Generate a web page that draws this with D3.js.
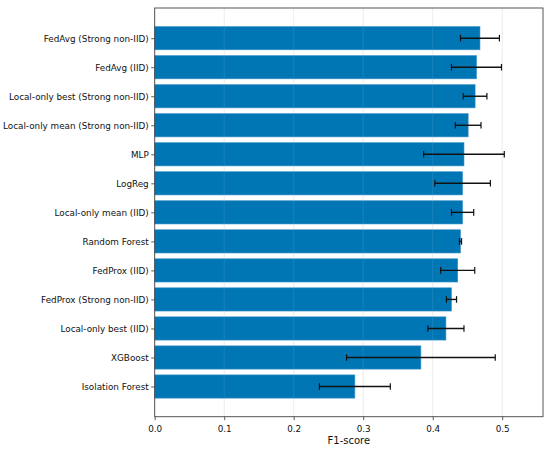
<!DOCTYPE html>
<html>
<head>
<meta charset="utf-8">
<script src="https://cdn.jsdelivr.net/npm/d3@7"></script>
<style>
  body { margin: 0; background: #fff; }
  svg text { font-family: "DejaVu Sans", sans-serif; }
</style>
</head>
<body>
<svg id="chart" width="550" height="451"></svg>
<script>
// data
var models = ["FedAvg (Strong non-IID)", "FedAvg (IID)", "Local-only best (Strong non-IID)",
              "Local-only mean (Strong non-IID)", "MLP", "LogReg", "Local-only mean (IID)",
              "Random Forest", "FedProx (IID)", "FedProx (Strong non-IID)",
              "Local-only best (IID)", "XGBoost", "Isolation Forest"];
var f1Mean = [0.468, 0.463, 0.461, 0.451, 0.445, 0.443, 0.443, 0.440, 0.436, 0.427, 0.419, 0.383, 0.288];
var f1Std  = [0.028, 0.036, 0.017, 0.0185, 0.058, 0.040, 0.016, 0.0015, 0.0245, 0.0073, 0.026, 0.107, 0.051];
var xTicks = [0.0, 0.1, 0.2, 0.3, 0.4, 0.5];

var svg = d3.select("#chart");
var plotL = 154.7, plotR = 543, plotT = 8, plotB = 416.7;

var x = d3.scaleLinear().domain([0, 0.5587]).range([plotL, plotR]);
// matplotlib style: positions 0..12, margins 5%
var y = d3.scaleLinear().domain([-1.04, 13.04]).range([plotT, plotB]);
var barH = (y(0.4) - y(-0.4));

// grid
svg.append("g").selectAll("line")
  .data(xTicks)
  .enter().append("line")
  .attr("x1", d => x(d)).attr("x2", d => x(d))
  .attr("y1", plotT).attr("y2", plotB)
  .attr("stroke", "#e6e6e6").attr("stroke-width", 0.8);

// bars
svg.append("g").selectAll("rect")
  .data(models)
  .enter().append("rect")
  .attr("x", x(0))
  .attr("y", (d, i) => y(i) - barH / 2)
  .attr("width", (d, i) => x(f1Mean[i]) - x(0))
  .attr("height", barH)
  .attr("fill", "#0176b5")
  .attr("stroke", "#3a92c6")
  .attr("stroke-width", 0.6);

// grid faintly over bars
svg.append("g").selectAll("line")
  .data(xTicks)
  .enter().append("line")
  .attr("x1", d => x(d)).attr("x2", d => x(d))
  .attr("y1", plotT).attr("y2", plotB)
  .attr("stroke", "#ffffff").attr("stroke-opacity", 0.12).attr("stroke-width", 0.8);

// error bars
var err = svg.append("g").selectAll("g")
  .data(models)
  .enter().append("g");

err.append("line")
  .attr("x1", (d, i) => x(f1Mean[i] - f1Std[i]))
  .attr("x2", (d, i) => x(f1Mean[i] + f1Std[i]))
  .attr("y1", (d, i) => y(i)).attr("y2", (d, i) => y(i))
  .attr("stroke", "#111").attr("stroke-width", 1.4);

[-1, 1].forEach(function(s) {
  err.append("line")
    .attr("x1", (d, i) => x(f1Mean[i] + s * f1Std[i]))
    .attr("x2", (d, i) => x(f1Mean[i] + s * f1Std[i]))
    .attr("y1", (d, i) => y(i) - 3.3).attr("y2", (d, i) => y(i) + 3.3)
    .attr("stroke", "#111").attr("stroke-width", 1.2);
});

// axes
var xAxis = d3.axisBottom(x).tickValues(xTicks).tickFormat(d3.format(".1f")).tickSize(3.5).tickSizeOuter(0);
var yAxis = d3.axisLeft(y).tickValues(d3.range(models.length)).tickFormat(i => models[i]).tickSize(3.5).tickSizeOuter(0);

var gx = svg.append("g").attr("transform", `translate(0, ${plotB})`).call(xAxis);
var gy = svg.append("g").attr("transform", `translate(${plotL}, 0)`).call(yAxis);

[gx, gy].forEach(function(g) {
  g.select(".domain").remove();
  g.selectAll(".tick line").attr("stroke", "#333").attr("stroke-width", 0.8);
  g.selectAll(".tick text").attr("fill", "#111").style("font-size", "8.8px");
});
gx.selectAll(".tick text").attr("dy", "0.95em");
gy.selectAll(".tick text").attr("x", -6);

// frame
svg.append("rect")
  .attr("x", plotL).attr("y", plotT)
  .attr("width", plotR - plotL).attr("height", plotB - plotT)
  .attr("fill", "none").attr("stroke", "#444").attr("stroke-width", 0.9);

svg.append("text")
  .attr("x", (plotL + plotR) / 2).attr("y", 444)
  .attr("text-anchor", "middle")
  .attr("fill", "#111")
  .style("font-size", "10px")
  .text("F1-score");
</script>
</body>
</html>
